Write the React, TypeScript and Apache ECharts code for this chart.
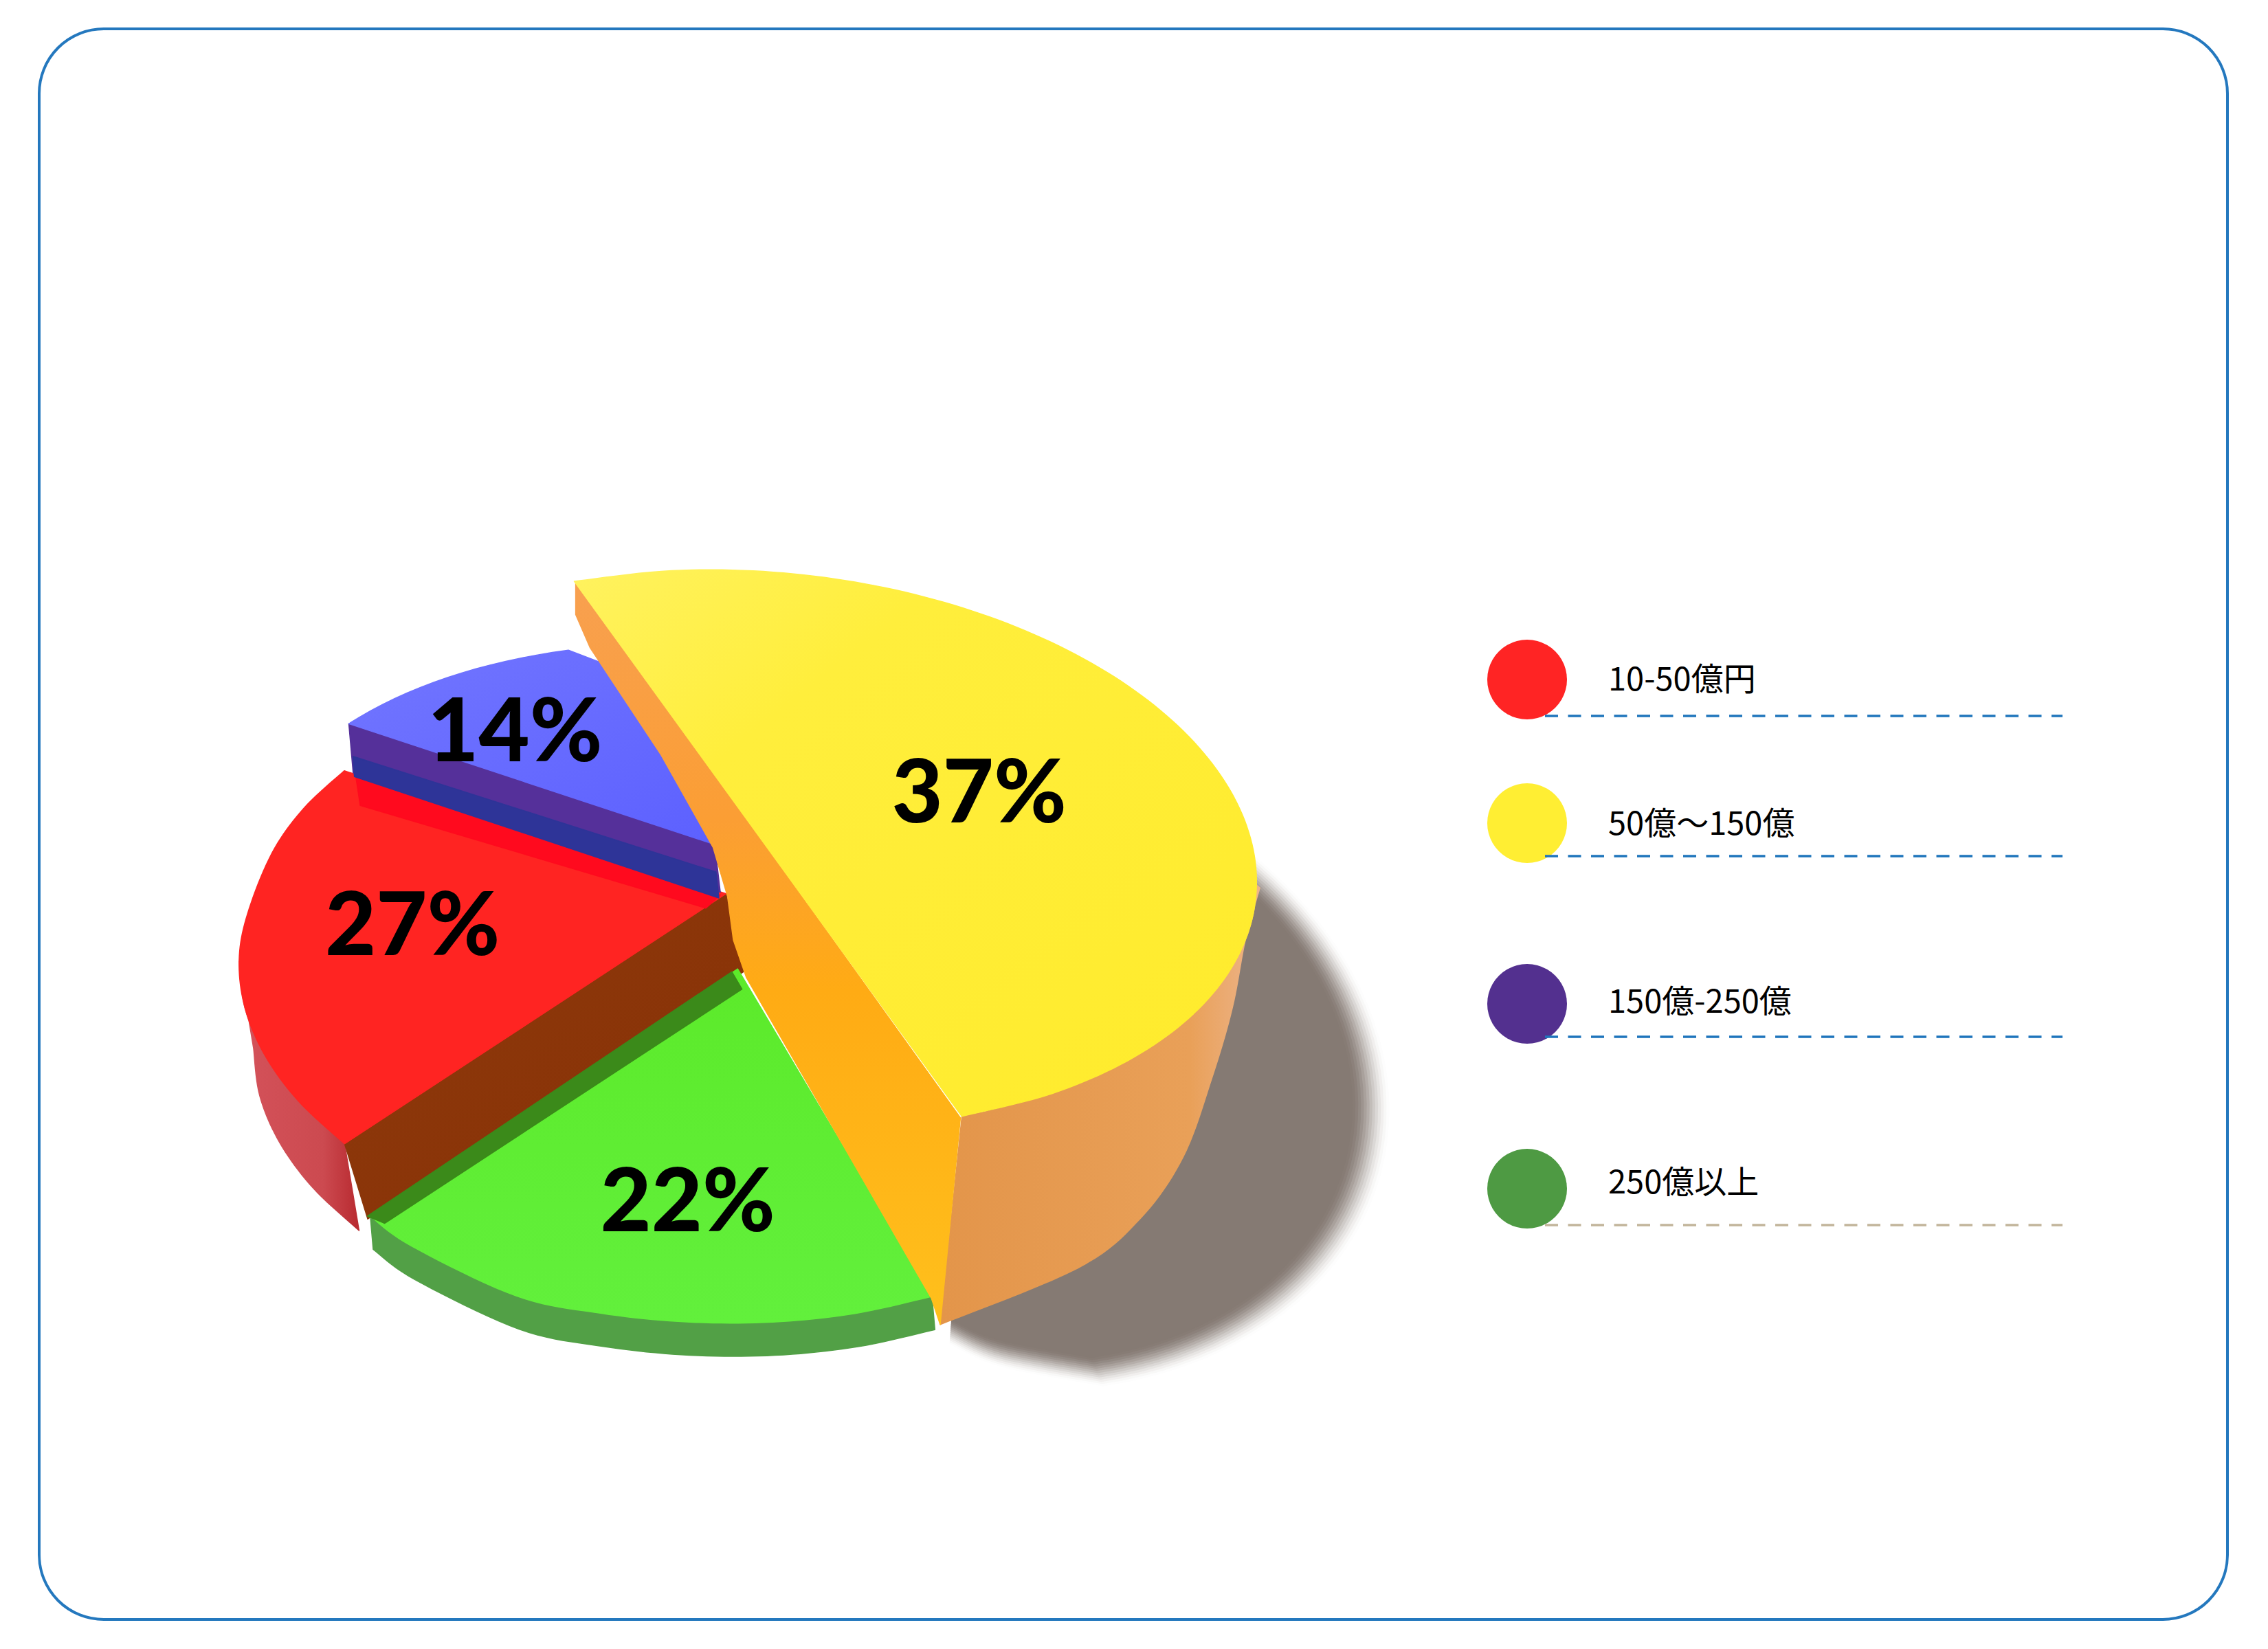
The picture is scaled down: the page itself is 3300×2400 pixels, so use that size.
import React, { useEffect, useRef } from "react";
import * as echarts from "echarts";

// ---- data ----
const categories = ["10-50億円", "50億～150億", "150億-250億", "250億以上"];
const shares = [27, 37, 14, 22];
const legendColors = ["#FF2424", "#FFEE33", "#53308F", "#4E9A43"];
const legendLineColors = ["#1F75BC", "#1F75BC", "#1F75BC", "#C2B59B"];

// ---- layout (in units of the 1568px-wide view, scaled by S) ----
const S = 3300 / 1568;
const U = [134, 185];
const V = [310, -55];
type P = number[];
const grad = (x: number, y: number, x2: number, y2: number, stops: [number, string][]) =>
  new echarts.graphic.LinearGradient(x, y, x2, y2, stops.map(([offset, color]) => ({ offset, color })));

const sliceLayout: any[] = [
  { // red
    c: [503, 690], apex: [502, 618], start: 204, perShare: 3, depth: [10, 60], shrink: 1,
    corners: [[238, 533], [210, 559], [188, 590]], arcFrom: 236,
    top: "#FF2422",
    wall: grad(0, 0, 1, 0, [[0, "#D4525A"], [0.7, "#CC4A50"], [1, "#B82A30"]]),
    wallFrom: 246, cut: [[0, 0], [16, 52]], cutApex: [[12, 54], [0, 0]],
    cutFill: grad(0, 0, 1, 1, [[0, "#8E3A0C"], [0.62, "#8A3408"], [0.8, "#7E0C00"], [1, "#7E0C00"]]),
    extras: [
      { pts: [[246, 537], [498, 619], [488, 628], [249, 557]], fill: "#FF0A1E" },
    ],
    label: [-15, 0.675],
  },
  { // yellow
    c: [531, 587], apex: null, start: 0, perShare: 180 / 37, shrink: 1,
    top: grad(0, 0, 1, 1, [[0, "#FFF25F"], [0.28, "#FFEE3C"], [1, "#FFEB2B"]]),
    wall: grad(0, 0, 1, 0, [[0, "#E3954A"], [0.78, "#E9A058"], [1, "#EDB48A"]]),
    wallFrom: 0, wallTo: 66,
    wallEdge: [[871, 614], [861, 650], [852, 697], [838, 745], [818, 800], [788, 843], [745, 877], [650, 916]],
    yellowCut: [[398, 402], [398, 425], [408, 448], [457, 522], [493, 586], [503, 620], [507, 650], [516, 676], [644, 898], [650, 916], [664, 773]],
    cutFill: grad(0, 0, 0, 1, [[0, "#F8A050"], [0.32, "#FB9E34"], [0.55, "#FFAB14"], [1, "#FFC01C"]]),
    label: [8.7, 0.51],
  },
  { // blue
    c: [505, 638], apex: [500, 586], start: 176, perShare: 32 / 14, depth: [0, 25], shrink: 1,
    corners: [[415, 458]], cornerStraight: true,
    top: grad(0, 0, 1, 1, [[0, "#7276FF"], [1, "#5C60FF"]]), wall: null,
    cut: [[0, 0], [3, 34]], cutApex: [[-2, 31], [-6, -3]],
    cutFill: "#55309A",
    extras: [
      { pts: [[244, 523], [495, 603], [497, 621], [245, 537]], fill: "#2E3498" },
    ],
    label: [-1.3, 0.787],
  },
  { // green
    c: [465, 722], apex: [510, 670], start: 295, perShare: 3.35, depth: [2, 23], shrink: 1,
    corners: [[256, 841], [285, 862]], arcFrom: 318,
    top: grad(0, 0, 0, 1, [[0, "#5CEA2A"], [1, "#62F03C"]]),
    wall: "#52A046", cut: null,
    extras: [
      { pts: [[254, 841], [506, 672], [513, 684], [266, 846]], fill: "#3B8A1A" },
    ],
    label: [8, 0.551],
  },
];
const paintOrder = [0, 2, 3, 1];

const shadowEllipse = { c: [670, 735], a: 282, b: 212, tilt: 15, from: -90, to: 60, tail: [[691, 936], [657, 921]] };
const shadowColor = [0x85, 0x7a, 0x73];
const shadowLayers = 14;
const shadowSpread = 11;

const pt = (c: P, deg: number, r = 1): P => {
  const t = (deg * Math.PI) / 180;
  return [c[0] + r * (U[0] * Math.cos(t) + V[0] * Math.sin(t)), c[1] + r * (U[1] * Math.cos(t) + V[1] * Math.sin(t))];
};
const px = (pts: P[]) => pts.map((p) => [p[0] * S, p[1] * S]);
const arc = (c: P, a: number, b: number, r = 1, step = 2) => {
  const out: P[] = [];
  const n = Math.max(2, Math.ceil(Math.abs(b - a) / step));
  for (let i = 0; i <= n; i++) out.push(pt(c, a + ((b - a) * i) / n, r));
  return out;
};
// Catmull-Rom smoothing of a run of outline points
const spline = (pts: P[], sub = 10) => {
  if (pts.length < 3) return pts;
  const out: P[] = [];
  for (let i = 0; i < pts.length - 1; i++) {
    const p0 = pts[Math.max(0, i - 1)], p1 = pts[i], p2 = pts[i + 1], p3 = pts[Math.min(pts.length - 1, i + 2)];
    for (let k = 0; k < sub; k++) {
      const t = k / sub, t2 = t * t, t3 = t2 * t;
      out.push([0, 1].map((j) =>
        0.5 * (2 * p1[j] + (p2[j] - p0[j]) * t + (2 * p0[j] - 5 * p1[j] + 4 * p2[j] - p3[j]) * t2 + (3 * p1[j] - p0[j] - 3 * p2[j] + p3[j]) * t3)));
    }
  }
  out.push(pts[pts.length - 1]);
  return out;
};
const COARSE = 12;
const poly = (pts: P[], fill: any) => ({
  type: "polygon",
  shape: { points: px(pts) },
  style: { fill, stroke: fill, lineWidth: 1.5, lineJoin: "round" },
});

function renderSlice(_: any, api: any) {
  const idx = api.value(0);
  const share = api.value(1);
  const L = sliceLayout[idx];
  const a0 = L.start;
  const a1 = a0 + share * L.perShare;
  const children: any[] = [];
  const corners: P[] = L.corners || [];
  const arcFrom = L.arcFrom ?? a0;
  if (L.wall) {
    if (L.wallEdge) {
      children.push(poly([...arc(L.c, L.wallFrom, L.wallTo), ...spline(L.wallEdge)], L.wall));
    } else {
      const d = L.depth;
      const bc = [L.c[0] + d[0], L.c[1] + d[1]];
      const useCorners = L.wallFrom === undefined;
      const from = L.wallFrom ?? arcFrom;
      const head = useCorners ? corners : [];
      const upper = spline([...head, ...arc(L.c, from, a1, 1, COARSE)]);
      const lower = spline([...head.map((p) => [p[0] + d[0], p[1] + d[1]]), ...arc(bc, from, a1, L.shrink, COARSE)]).reverse();
      children.push(poly([...upper, ...lower], L.wall));
    }
  }
  if (L.cut) {
    const e = pt(L.c, a1);
    children.push(poly([
      ...L.cut.map((d: P) => [e[0] + d[0], e[1] + d[1]]),
      ...L.cutApex.map((d: P) => [L.apex[0] + d[0], L.apex[1] + d[1]]),
    ], L.cutFill));
  }
  if (L.yellowCut) children.push(poly(L.yellowCut, L.cutFill));
  const rim = L.cornerStraight
    ? [...corners, ...arc(L.c, arcFrom, a1)]
    : spline([...corners, ...arc(L.c, arcFrom, a1, 1, COARSE)]);
  children.push(poly(L.apex ? [L.apex, ...rim] : rim, L.top));
  (L.extras || []).forEach((x: any) => children.push(poly(x.pts, x.fill)));
  const [da, r] = L.label;
  const lp = pt(L.c, (a0 + a1) / 2 + da, r);
  children.push({
    type: "text",
    style: {
      x: lp[0] * S, y: lp[1] * S, text: share + "%", fill: "#000",
      fontFamily: "Lato", fontWeight: 900, fontSize: 128, align: "center", verticalAlign: "middle",
    },
  });
  return { type: "group", children };
}

function renderShadow() {
  const { c, a, b, tilt, from, to, tail } = shadowEllipse;
  const f = (tilt * Math.PI) / 180;
  const ring: P[] = [];
  for (let d = from; d <= to; d += 3) {
    const t = (d * Math.PI) / 180;
    const x = a * Math.cos(t), y = b * Math.sin(t);
    ring.push([c[0] + x * Math.cos(f) - y * Math.sin(f), c[1] + x * Math.sin(f) + y * Math.cos(f)]);
  }
  const base = [...ring, ...spline([ring[ring.length - 1], ...tail]).slice(1)];
  const children: any[] = [];
  for (let i = 0; i < shadowLayers; i++) {
    const u = (i + 1) / shadowLayers; // 0 outside .. 1 inside
    const ease = u * u * (3 - 2 * u);
    const k = 1 + ((shadowSpread * (1 - 2 * (i / (shadowLayers - 1)))) / 240);
    const col = shadowColor.map((v) => Math.round(255 + (v - 255) * ease));
    children.push({
      type: "polygon",
      shape: { points: px(base.map((p) => [c[0] + (p[0] - c[0]) * k, c[1] + (p[1] - c[1]) * k])) },
      style: { fill: `rgb(${col.join(",")})` },
    });
  }
  return { type: "group", children };
}

export default function App() {
  const ref = useRef<HTMLDivElement>(null);
  useEffect(() => {
    const chart = echarts.init(ref.current!, null, { renderer: "svg" });
    const legendCy = [989, 1198, 1461, 1730];
    const lineY = [1042, 1246, 1509, 1783];
    const textY = [984, 1194, 1453, 1716];
    const legend: any[] = [];
    categories.forEach((name, i) => {
      legend.push({ type: "circle", shape: { cx: 2222, cy: legendCy[i], r: 58 }, style: { fill: legendColors[i] } });
      legend.push({
        type: "line", shape: { x1: 2248, y1: lineY[i], x2: 3001, y2: lineY[i] },
        style: { stroke: legendLineColors[i], lineWidth: 3.5, lineDash: [19, 14.5] },
      });
      legend.push({
        type: "text", x: 2340, y: textY[i],
        style: {
          text: name, fill: "#000", fontFamily: "Noto Sans CJK JP", fontSize: 47, fontWeight: 400,
          verticalAlign: "middle", align: "left",
        },
      });
    });
    chart.setOption({
      animation: false,
      backgroundColor: "#fff",
      graphic: [
        {
          type: "rect", shape: { x: 57, y: 42, width: 3184, height: 2315, r: 94 },
          style: { fill: "transparent", stroke: "#2478BE", lineWidth: 4 },
        },
        ...legend,
      ],
      series: [
        { type: "custom", name: "shadow", coordinateSystem: "none", silent: true, data: [[0]], renderItem: renderShadow, z: 1 },
        {
          type: "custom", name: "share", coordinateSystem: "none", silent: true, z: 2,
          data: paintOrder.map((i) => [i, shares[i]]),
          encode: { value: 1 },
          renderItem: renderSlice,
        },
      ],
    });
    return () => chart.dispose();
  }, []);
  return <div ref={ref} style={{ position: "absolute", left: 0, top: 0, width: 3300, height: 2400 }} />;
}
